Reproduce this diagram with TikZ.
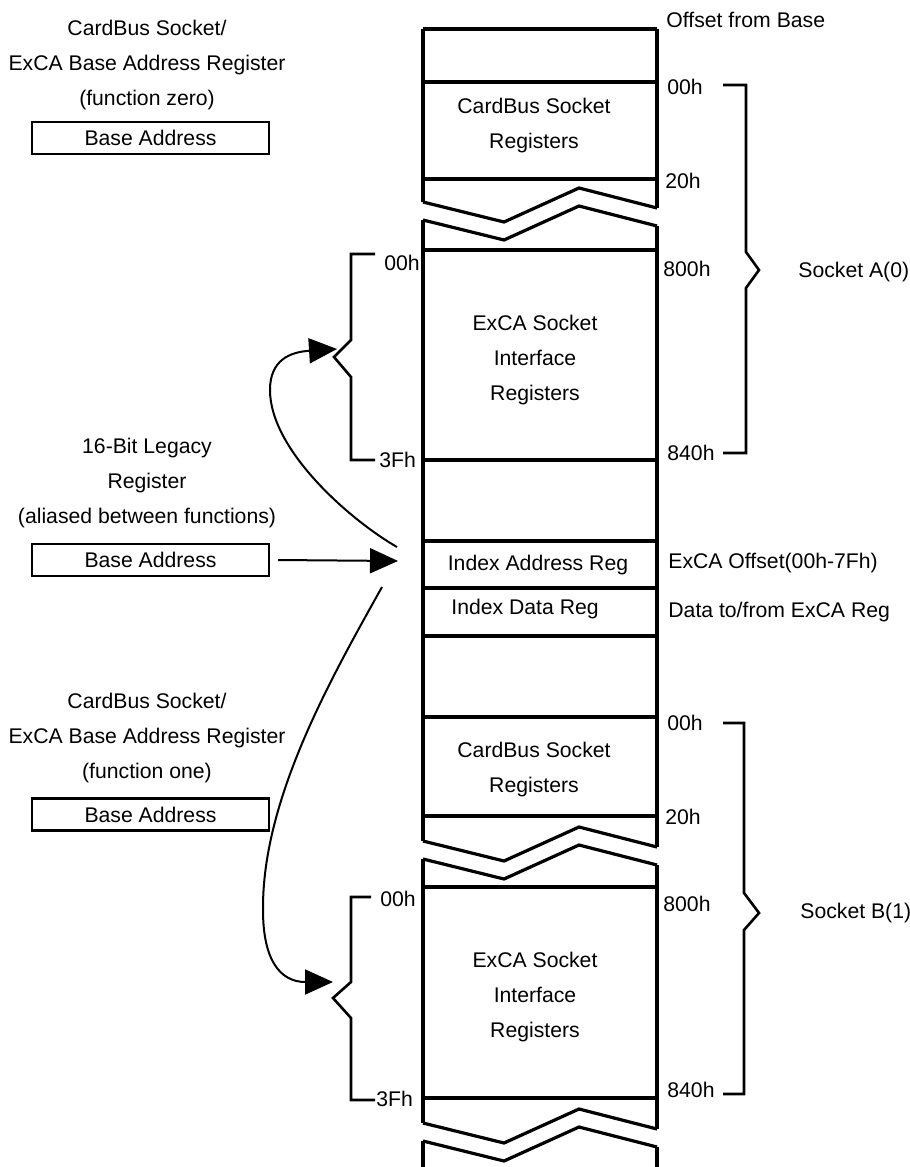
\documentclass[tikz,border=0pt]{standalone}
\usepackage{fontspec}
\setmainfont{Liberation Sans}
\usetikzlibrary{arrows.meta}

\begin{document}
\begin{tikzpicture}[x=0.5pt, y=-0.5pt,
  every node/.style={font=\fontsize{10.6}{17.5}\selectfont, inner sep=0pt},
  wall/.style={line width=1.6pt},
  tie/.style={line width=1.3pt},
  bar/.style={draw, line width=1.1pt, minimum width=118.5pt, minimum height=16pt},
  link/.style={line width=1pt, -{Triangle[length=14pt,width=12.5pt]}},
  lbl/.style={anchor=west},
  txt/.style={align=center}]
\useasboundingbox (0,0) rectangle (910,1167);

% register column
\foreach \y in {29,82,179,250,460,541,588,636,717,816,887,1098}
  \draw[wall] (423,\y) -- (657,\y);
\draw[wall] (423,29) -- (423,202) (423,220) -- (423,841) (423,859) -- (423,1123) (423,1141) -- (423,1167);
\draw[wall] (657,29) -- (657,208) (657,226) -- (657,847) (657,865) -- (657,1129) (657,1147) -- (657,1167);
\foreach \b in {202,841,1123} {
  \draw[wall] (423,\b) -- (504,{\b+20}) -- (579,{\b-14}) -- (657,{\b+6});
  \draw[wall] (423,{\b+18}) -- (504,{\b+38}) -- (579,{\b+4}) -- (657,{\b+24});
}

\node[txt] (cbA) at (534,126) {CardBus Socket\\Registers};
\node[txt] (exA) at (535,360) {ExCA Socket\\Interface\\Registers};
\node (iar) at (538,565) {Index Address Reg};
\node[lbl] (idr) at (451,609) {Index Data Reg};
\node[txt] (cbB) at (534,770) {CardBus Socket\\Registers};
\node[txt] (exB) at (535,997) {ExCA Socket\\Interface\\Registers};

% offsets on the right
\node[lbl] (ofs) at (666,20) {Offset from Base};
\node[lbl] at (667,87) {00h};
\node[lbl] at (665,181) {20h};
\node[lbl] at (663,269) {800h};
\node[lbl] at (667,453) {840h};
\node[lbl] (eo) at (668,563) {ExCA Offset(00h-7Fh)};
\node[lbl] (ed) at (668,612) {Data to/from ExCA Reg};
\node[lbl] at (667,723) {00h};
\node[lbl] at (665,817) {20h};
\node[lbl] at (663,904) {800h};
\node[lbl] at (667,1090) {840h};

% socket braces
\draw[tie] (723,85) -- (746,85) -- (746,252) -- (759,270) -- (746,288) -- (746,453) -- (723,453);
\node[lbl] (skA) at (798,272) {Socket A(0)};
\draw[tie] (723,723) -- (744,723) -- (744,893) -- (759,913) -- (744,930) -- (744,1094) -- (723,1094);
\node[lbl] (skB) at (800,913) {Socket B(1)};

% ExCA offsets on the left
\draw[tie] (375,254) -- (351,254) -- (351,340) -- (334,357) -- (351,377) -- (351,460) -- (375,460);
\node[lbl] at (384,263) {00h};
\node[lbl] at (379,460) {3Fh};
\draw[tie] (371,897) -- (351,897) -- (351,982) -- (333,998) -- (351,1018) -- (351,1100) -- (375,1100);
\node[lbl] at (380,899) {00h};
\node[lbl] at (376,1099) {3Fh};

% base address registers
\node[txt] (fz) at (147,65) {CardBus Socket/\\ExCA Base Address Register\\(function zero)};
\node[bar] (ba0) at (150.5,138) {Base Address};
\node[txt] (lg) at (147,483) {16-Bit Legacy\\Register\\(aliased between functions)};
\node[bar] (ba1) at (150.5,560) {Base Address};
\node[txt] (fo) at (147,738) {CardBus Socket/\\ExCA Base Address Register\\(function one)};
\node[bar] (ba2) at (150.5,814.5) {Base Address};

% arrows
\coordinate (ia) at (398,561);
\coordinate (ua) at (337,349);
\coordinate (la) at (333,982);
\coordinate (cs1) at (397,547);
\coordinate (cs2) at (382,587);
\draw[link] ([xshift=4pt]ba1.east) -- (ia);
\draw[link] (cs1) .. controls (350,520) and (270,450) .. (270,390) .. controls (270,360) and (290,352) .. (ua);
\draw[link] (cs2) .. controls (330,680) and (262,800) .. (263,910) .. controls (263,960) and (280,982) .. (la);
\end{tikzpicture}
\end{document}
